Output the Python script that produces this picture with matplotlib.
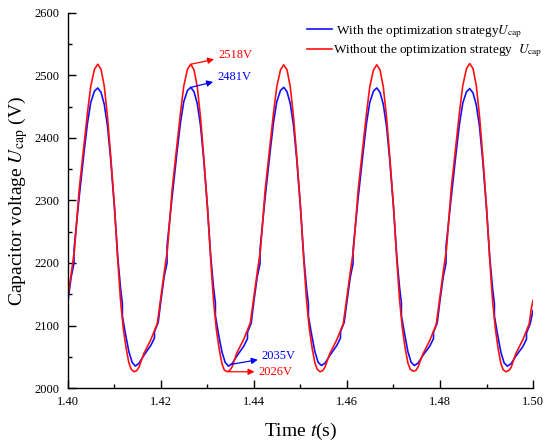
import numpy as np
import matplotlib
matplotlib.use('Agg')
import matplotlib.pyplot as plt
from matplotlib.ticker import MultipleLocator

plt.rcParams['font.family'] = ['Liberation Serif', 'DejaVu Serif']
plt.rcParams['mathtext.fontset'] = 'stix'

# start time of each cycle (50 Hz ripple)
cycle_start = [1.40, 1.42, 1.44, 1.46, 1.48]

# sample points inside one cycle (s after cycle start)
red_phase = [0.0, 0.0007, 0.0014, 0.0024, 0.0035, 0.0042, 0.0049, 0.0057,
             0.0064, 0.0071, 0.0078, 0.0085, 0.0092, 0.0100, 0.0107, 0.0113,
             0.0119, 0.0125, 0.0131, 0.0136, 0.0142, 0.0148, 0.0153, 0.0163,
             0.0178, 0.0192, 0.0196]
# without the optimization strategy (red), one list per cycle
red_cycles = [
    [2146, 2184, 2221, 2317, 2392, 2441, 2483, 2510, 2518, 2510, 2483, 2434,
     2370, 2290, 2205, 2140, 2095, 2064, 2040, 2030, 2026, 2028, 2034, 2055,
     2077, 2103, 2125],
    [2148, 2185, 2222, 2318, 2393, 2441, 2483, 2510, 2518, 2509, 2482, 2433,
     2369, 2289, 2204, 2139, 2094, 2063, 2039, 2029, 2026, 2028, 2034, 2056,
     2078, 2104, 2126],
    [2147, 2185, 2221, 2317, 2392, 2440, 2482, 2509, 2517, 2509, 2482, 2434,
     2370, 2290, 2205, 2140, 2095, 2064, 2040, 2030, 2026, 2028, 2034, 2055,
     2077, 2103, 2125],
    [2148, 2185, 2221, 2317, 2392, 2440, 2482, 2509, 2517, 2509, 2482, 2434,
     2370, 2291, 2206, 2141, 2096, 2064, 2040, 2030, 2027, 2028, 2034, 2054,
     2076, 2102, 2124],
    [2147, 2186, 2222, 2318, 2393, 2442, 2484, 2511, 2519, 2511, 2484, 2435,
     2371, 2290, 2205, 2140, 2095, 2063, 2039, 2029, 2026, 2028, 2033, 2055,
     2077, 2103, 2126],
]
red_end = 2140

# with the optimization strategy (blue); small jumps come from repeated times
blue_phase = [0.0, 0.0007, 0.0013, 0.0013, 0.0024, 0.0035, 0.0042, 0.0049,
              0.0057, 0.0064, 0.0071, 0.0078, 0.0085, 0.0092, 0.0100, 0.0107,
              0.0113, 0.0117, 0.0117, 0.0124, 0.0131, 0.0138, 0.0145, 0.0153,
              0.0163, 0.0178, 0.0186, 0.0186, 0.0194]
blue_cycles = [
    [2140, 2178, 2200, 2222, 2305, 2380, 2424, 2457, 2475, 2480, 2473, 2454,
     2419, 2364, 2288, 2210, 2160, 2135, 2115, 2085, 2058, 2041, 2035, 2040,
     2052, 2068, 2080, 2090, 2105],
    [2141, 2179, 2200, 2227, 2306, 2381, 2425, 2458, 2476, 2481, 2474, 2455,
     2420, 2365, 2288, 2210, 2161, 2136, 2116, 2085, 2058, 2041, 2035, 2039,
     2051, 2067, 2079, 2089, 2104],
    [2140, 2178, 2199, 2222, 2305, 2380, 2425, 2458, 2476, 2481, 2474, 2455,
     2420, 2365, 2288, 2210, 2160, 2135, 2115, 2085, 2058, 2041, 2036, 2040,
     2052, 2068, 2080, 2090, 2105],
    [2139, 2177, 2199, 2221, 2304, 2379, 2424, 2457, 2475, 2480, 2473, 2454,
     2419, 2364, 2289, 2211, 2161, 2136, 2116, 2086, 2058, 2041, 2036, 2040,
     2052, 2067, 2079, 2089, 2104],
    [2140, 2178, 2200, 2227, 2304, 2379, 2423, 2456, 2474, 2479, 2472, 2453,
     2418, 2363, 2287, 2209, 2160, 2135, 2115, 2085, 2057, 2040, 2035, 2039,
     2051, 2066, 2078, 2088, 2103],
]
blue_end = 2124

t_red = np.concatenate([np.array(red_phase) + c for c in cycle_start] + [[1.50]])
u_red = np.concatenate(red_cycles + [[red_end]])
t_blue = np.concatenate([np.array(blue_phase) + c for c in cycle_start] + [[1.50]])
u_blue = np.concatenate(blue_cycles + [[blue_end]])

fig = plt.figure(figsize=(5.5, 4.46), dpi=100)
ax = fig.add_axes([0.1236, 0.130, 0.8455, 0.841])

ax.plot(t_blue, u_blue, color='#1010ff', lw=1.2,
        label=r' With the optimization strategy$\mathit{U}_{\rm cap}$')
ax.plot(t_red, u_red, color='#ff1010', lw=1.2,
        label=r'Without the optimization strategy  $\mathit{U}_{\rm cap}$')

ax.set_ylim(2000, 2600)
ax.xaxis.set_major_locator(MultipleLocator(0.02))
ax.xaxis.set_minor_locator(MultipleLocator(0.01))
ax.yaxis.set_major_locator(MultipleLocator(100))
ax.yaxis.set_minor_locator(MultipleLocator(50))
ax.set_xlim(1.40, 1.50)
ax.xaxis.set_major_formatter(lambda v, pos: f'{v:.2f}')
ax.tick_params(which='both', direction='in', labelsize=9, width=1.0, pad=6)
ax.tick_params(which='major', length=6)
ax.tick_params(which='minor', length=3)
for s in ['top', 'right']:
    ax.spines[s].set_visible(False)
for s in ['left', 'bottom']:
    ax.spines[s].set_linewidth(1.0)

ax.set_xlabel(r'Time $\mathit{t}$(s)', fontsize=14, labelpad=9)
ax.set_ylabel(r'Capacitor voltage $\mathit{U}_{\rm cap}$ (V)', fontsize=14, labelpad=3)

# peak / valley annotations, arrow head next to the text
arr = dict(arrowstyle='<|-', lw=0.9, mutation_scale=9, shrinkA=1, shrinkB=0)
ax.annotate('2518V', xy=(1.4265, 2518), xytext=(1.4323, 2533), color='red',
            fontsize=9, va='center',
            arrowprops=dict(arr, color='red'))
ax.annotate('2481V', xy=(1.4265, 2481), xytext=(1.4321, 2498), color='blue',
            fontsize=9, va='center',
            arrowprops=dict(arr, color='blue'))
ax.annotate('2035V', xy=(1.4352, 2038), xytext=(1.4417, 2051), color='blue',
            fontsize=9, va='center',
            arrowprops=dict(arr, color='blue'))
ax.annotate('2026V', xy=(1.4345, 2026), xytext=(1.4410, 2026), color='red',
            fontsize=9, va='center',
            arrowprops=dict(arr, color='red'))

ax.legend(loc='upper left', bbox_to_anchor=(0.558, 0.948),
          bbox_transform=fig.transFigure, frameon=False, fontsize=9.5,
          handlelength=1.9, handletextpad=0.1, labelspacing=0.2,
          borderpad=0, borderaxespad=0)

fig.savefig('out.png', dpi=100)
